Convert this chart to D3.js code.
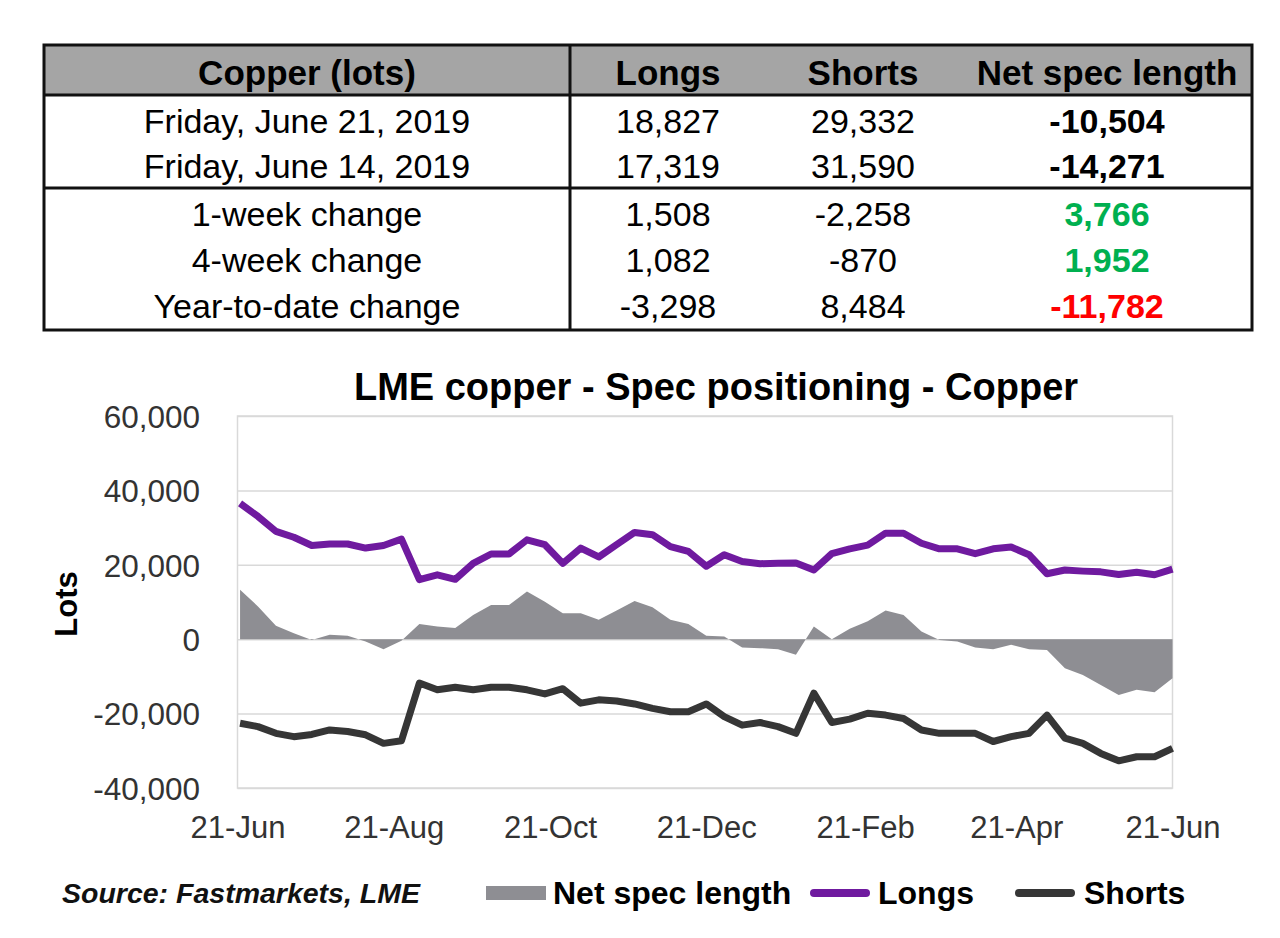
<!DOCTYPE html>
<html>
<head>
<meta charset="utf-8">
<script src="https://cdn.jsdelivr.net/npm/d3@7"></script>
<style>
  html, body { margin: 0; padding: 0; background: #ffffff; }
  svg { display: block; font-family: "Liberation Sans", Arial, sans-serif; }
</style>
</head>
<body>
<svg id="chart" width="1280" height="938"></svg>
<script>
// ---------------- DATA ----------------
const tableHeader = ["Copper (lots)", "Longs", "Shorts", "Net spec length"];
const rowLabels = ["Friday, June 21, 2019", "Friday, June 14, 2019", "1-week change", "4-week change", "Year-to-date change"];
const tableLongs = [18827, 17319, 1508, 1082, -3298];
const tableShorts = [29332, 31590, -2258, -870, 8484];
const tableNet = [-10504, -14271, 3766, 1952, -11782];

const chartTitle = "LME copper - Spec positioning - Copper";
const firstDate = "2018-06-22"; // weekly (Fridays)
const longs = [36500, 33000, 29000, 27400, 25200, 25600, 25600, 24500, 25200, 26900,
               16000, 17300, 16100, 20400, 22900, 22900, 26700, 25400, 20400, 24500,
               22100, 25400, 28700, 28100, 24900, 23600, 19600, 22700, 20900, 20300,
               20400, 20500, 18600, 23000, 24300, 25300, 28500, 28500, 25800, 24300,
               24300, 23000, 24300, 24800, 22700, 17600, 18600, 18300, 18100, 17400,
               18000, 17319, 18827];
const shorts = [-22600, -23500, -25300, -26200, -25600, -24400, -24800, -25700, -28000, -27300,
                -11800, -13600, -12900, -13600, -12900, -12900, -13600, -14700, -13300, -17200,
                -16300, -16600, -17400, -18600, -19500, -19500, -17400, -20800, -23100, -22400,
                -23500, -25300, -14500, -22400, -21500, -19900, -20400, -21300, -24400, -25300,
                -25300, -25300, -27500, -26200, -25300, -20400, -26600, -28000, -30700, -32700,
                -31600, -31590, -29332];
const netSpec = [13300, 8800, 3600, 1600, -200, 1200, 900, -600, -2700, -400,
                 4100, 3400, 3000, 6500, 9200, 9200, 12800, 10100, 7000, 7000,
                 5200, 7700, 10300, 8600, 5200, 4100, 900, 700, -2200, -2400,
                 -2700, -4200, 3400, 0, 2800, 4800, 7700, 6500, 2100, -200,
                 -600, -2200, -2700, -1500, -2700, -2900, -7800, -9600, -12300, -15000,
                 -13600, -14271, -10504];
const yTicks = [-40000, -20000, 0, 20000, 40000, 60000];
const xTickDates = ["2018-06-21", "2018-08-21", "2018-10-21", "2018-12-21", "2019-02-21", "2019-04-21", "2019-06-21"];
const xDomain = ["2018-06-21", "2019-06-21"];
const legendItems = ["Net spec length", "Longs", "Shorts"];
const sourceText = "Source: Fastmarkets, LME";

// ---------------- STYLES ----------------
const C = {
  longs: "#6f1a9f",
  shorts: "#363636",
  net: "#8e8e93",
  grid: "#d9d9d9",
  header: "#a5a5a5",
  green: "#00b050",
  red: "#ff0000",
  tick: "#333333"
};

const svg = d3.select("#chart");
const locale = d3.formatLocale({ decimal: ".", thousands: ",", grouping: [3], currency: ["", ""], minus: "-" });
const fmt = locale.format(",");
const parse = d3.utcParse("%Y-%m-%d");

// ---------------- TABLE ----------------
const T = { left: 44, right: 1252, top: 45, headBottom: 95, sep: 188, bottom: 330, colSep: 570 };
const colX = [307, 668, 863, 1107];
const rowCY = [121, 166, 214, 260, 306];
const tFS = 34;

svg.append("rect")
  .attr("x", T.left).attr("y", T.top)
  .attr("width", T.right - T.left).attr("height", T.headBottom - T.top)
  .attr("fill", C.header);

const tg = svg.append("g");
tg.selectAll("text.head").data(tableHeader).join("text")
  .attr("class", "head")
  .attr("x", (d, i) => colX[i]).attr("y", 72 + 0.358 * 35)
  .attr("text-anchor", "middle").attr("font-weight", "bold")
  .attr("font-size", 35).attr("fill", "#000")
  .text(d => d);

const rows = rowLabels.map((lab, i) => ({
  label: lab, longs: tableLongs[i], shorts: tableShorts[i], net: tableNet[i], i
}));
const rg = tg.selectAll("g.row").data(rows).join("g").attr("class", "row");
rg.append("text").attr("x", colX[0]).attr("y", d => rowCY[d.i] + 0.358 * tFS)
  .attr("text-anchor", "middle").attr("font-size", tFS).text(d => d.label);
rg.append("text").attr("x", colX[1]).attr("y", d => rowCY[d.i] + 0.358 * tFS)
  .attr("text-anchor", "middle").attr("font-size", tFS).text(d => fmt(d.longs));
rg.append("text").attr("x", colX[2]).attr("y", d => rowCY[d.i] + 0.358 * tFS)
  .attr("text-anchor", "middle").attr("font-size", tFS).text(d => fmt(d.shorts));
rg.append("text").attr("x", colX[3]).attr("y", d => rowCY[d.i] + 0.358 * tFS)
  .attr("text-anchor", "middle").attr("font-size", tFS).attr("font-weight", "bold")
  .attr("fill", d => d.i < 2 ? "#000" : (d.net >= 0 ? C.green : C.red))
  .text(d => fmt(d.net));

// table lines
const lw = 3;
tg.append("rect").attr("x", T.left).attr("y", T.top)
  .attr("width", T.right - T.left).attr("height", T.bottom - T.top)
  .attr("fill", "none").attr("stroke", "#111").attr("stroke-width", lw);
[T.headBottom, T.sep].forEach(y => {
  tg.append("line").attr("x1", T.left).attr("x2", T.right).attr("y1", y).attr("y2", y)
    .attr("stroke", "#111").attr("stroke-width", lw);
});
tg.append("line").attr("x1", T.colSep).attr("x2", T.colSep).attr("y1", T.top).attr("y2", T.bottom)
  .attr("stroke", "#111").attr("stroke-width", lw);

// ---------------- CHART ----------------
const P = { left: 237.5, right: 1172.5, top: 416, bottom: 788 };
const x = d3.scaleUtc().domain(xDomain.map(parse)).range([P.left, P.right]);
const y = d3.scaleLinear().domain([-40000, 60000]).range([P.bottom, P.top]);

const start = parse(firstDate);
const data = longs.map((v, i) => ({
  date: d3.utcDay.offset(start, 7 * i),
  longs: v, shorts: shorts[i], net: netSpec[i]
}));

// gridlines
const gridAxis = d3.axisLeft(y).tickValues(yTicks).tickSize(-(P.right - P.left)).tickFormat("");
const gg = svg.append("g").attr("transform", `translate(${P.left},0)`).call(gridAxis);
gg.select(".domain").remove();
gg.selectAll(".tick line").attr("stroke", C.grid).attr("stroke-width", 1.5);

// plot border
svg.append("rect").attr("x", P.left).attr("y", P.top)
  .attr("width", P.right - P.left).attr("height", P.bottom - P.top)
  .attr("fill", "none").attr("stroke", C.grid).attr("stroke-width", 1.5);

// net area
const area = d3.area().x(d => x(d.date)).y0(y(0)).y1(d => y(d.net));
svg.append("path").datum(data).attr("d", area).attr("fill", C.net);

// lines
const lineL = d3.line().x(d => x(d.date)).y(d => y(d.longs));
const lineS = d3.line().x(d => x(d.date)).y(d => y(d.shorts));
svg.append("path").datum(data).attr("d", lineL).attr("fill", "none")
  .attr("stroke", C.longs).attr("stroke-width", 7).attr("stroke-linejoin", "round");
svg.append("path").datum(data).attr("d", lineS).attr("fill", "none")
  .attr("stroke", C.shorts).attr("stroke-width", 7).attr("stroke-linejoin", "round");

// y axis labels
const yAxis = d3.axisLeft(y).tickValues(yTicks).tickSize(0).tickPadding(0).tickFormat(fmt);
const ya = svg.append("g").attr("transform", `translate(200,0)`).call(yAxis);
ya.select(".domain").remove();
ya.selectAll("text").attr("font-size", 31.5).attr("fill", C.tick)
  .attr("font-family", "Liberation Sans, Arial, sans-serif").attr("dy", "0.36em");

// x axis labels
const xAxis = d3.axisBottom(x).tickValues(xTickDates.map(parse)).tickSize(0).tickPadding(0)
  .tickFormat(d3.utcFormat("%d-%b"));
const xa = svg.append("g").attr("transform", `translate(0,838)`).call(xAxis);
xa.select(".domain").remove();
xa.selectAll("text").attr("font-size", 31).attr("fill", C.tick)
  .attr("font-family", "Liberation Sans, Arial, sans-serif").attr("dy", 0);

// title
svg.append("text").attr("x", 716).attr("y", 400).attr("text-anchor", "middle")
  .attr("font-size", 38).attr("font-weight", "bold").attr("fill", "#000").text(chartTitle);

// y title
svg.append("text").attr("transform", "translate(77,604) rotate(-90)")
  .attr("text-anchor", "middle").attr("font-size", 31).attr("font-weight", "bold")
  .attr("fill", "#000").text("Lots");

// source
svg.append("text").attr("x", 62).attr("y", 903).attr("font-size", 28.5)
  .attr("font-weight", "bold").attr("font-style", "italic").attr("fill", "#111").text(sourceText);

// legend
const lg = svg.append("g");
lg.append("rect").attr("x", 486).attr("y", 886).attr("width", 60).attr("height", 14).attr("fill", C.net);
lg.append("line").attr("x1", 814).attr("x2", 866).attr("y1", 893).attr("y2", 893)
  .attr("stroke", C.longs).attr("stroke-width", 8).attr("stroke-linecap", "round");
lg.append("line").attr("x1", 1019).attr("x2", 1071).attr("y1", 893).attr("y2", 893)
  .attr("stroke", C.shorts).attr("stroke-width", 8).attr("stroke-linecap", "round");
const legX = [553, 878, 1084];
lg.selectAll("text").data(legendItems).join("text")
  .attr("x", (d, i) => legX[i]).attr("y", 904)
  .attr("font-size", 32).attr("font-weight", "bold").attr("fill", "#000")
  .text(d => d);
</script>
</body>
</html>
